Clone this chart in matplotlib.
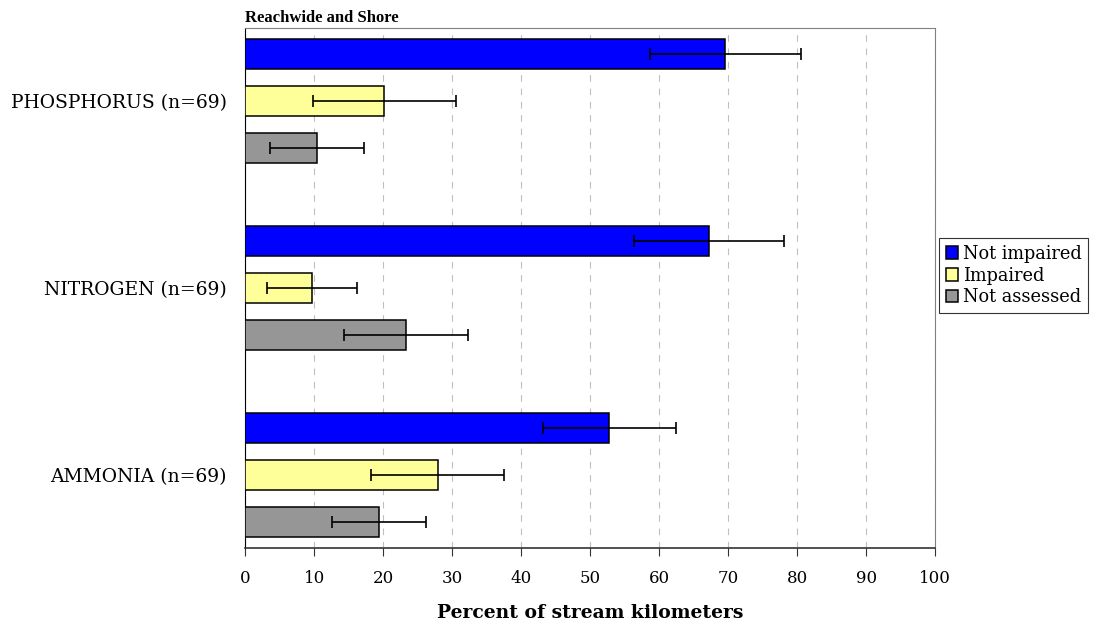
import matplotlib
matplotlib.use("Agg")
import matplotlib.pyplot as plt
import numpy as np

categories = ["PHOSPHORUS (n=69)", "NITROGEN (n=69)", "AMMONIA (n=69)"]
series = ["Not impaired", "Impaired", "Not assessed"]
colors = ["#0000FF", "#FFFF99", "#969696"]

not_impaired = [69.6, 67.2, 52.8]
impaired = [20.2, 9.7, 27.9]
not_assessed = [10.4, 23.3, 19.4]
values = [not_impaired, impaired, not_assessed]

err_not_impaired = [10.9, 10.9, 9.6]
err_impaired = [10.3, 6.5, 9.6]
err_not_assessed = [6.8, 9.0, 6.8]
errors = [err_not_impaired, err_impaired, err_not_assessed]

plt.rc("font", family="DejaVu Serif", size=12)

fig = plt.figure(figsize=(10.94, 6.25), dpi=100)
ax = fig.add_axes([0.224, 0.1232, 0.6308, 0.832])

y = np.arange(len(categories))
offsets = [-0.25, 0.0, 0.25]
for vals, errs, off, col, name in zip(values, errors, offsets, colors, series):
    ax.barh(y + off, vals, height=0.16, color=col, edgecolor="black",
            linewidth=1.1, label=name, zorder=3)
    ax.errorbar(vals, y + off, xerr=errs, fmt="none", ecolor="black",
                elinewidth=1.2, capsize=4.5, capthick=1.2, zorder=4)

ax.set_xlim(0, 100)
ax.set_ylim(2.39, -0.39)
ax.set_xticks(np.arange(0, 101, 10))
ax.set_yticks(y)
ax.set_yticklabels(categories, fontsize=13.5)
ax.tick_params(axis="y", length=0, pad=13)
ax.tick_params(axis="x", direction="out", length=6, pad=10, color="#333333",
               labelsize=12)
ax.xaxis.grid(True, linestyle=(0, (6, 6)), color="#c0c0c0", linewidth=0.8, zorder=0)

ax.spines["left"].set_color("black")
ax.spines["bottom"].set_color("#333333")
ax.spines["bottom"].set_linewidth(1.2)
ax.spines["top"].set_color("#808080")
ax.spines["right"].set_color("#808080")

ax.set_title("Reachwide and Shore", loc="left", fontweight="bold",
             family="Liberation Serif", fontsize=12, pad=4)
ax.set_xlabel("Percent of stream kilometers", fontweight="bold",
              fontsize=13.5, labelpad=12)

leg = ax.legend(loc="center left", bbox_to_anchor=(1.006, 0.524),
                frameon=True, fancybox=False, edgecolor="black",
                handlelength=0.7, handleheight=0.7, handletextpad=0.3,
                borderpad=0.35, labelspacing=0.22, fontsize=12.8,
                borderaxespad=0.0)
leg.get_frame().set_linewidth(0.8)

plt.savefig("out.png", dpi=100)
